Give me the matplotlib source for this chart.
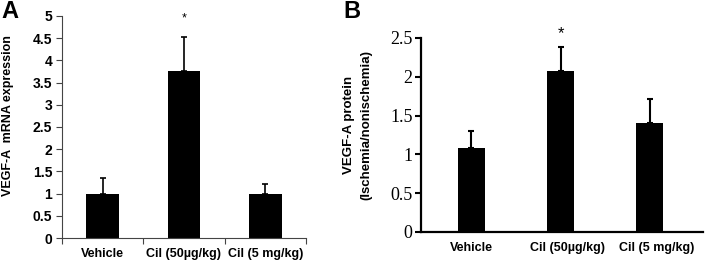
import matplotlib
matplotlib.use("Agg")
import matplotlib.pyplot as plt

groups = ["Vehicle", "Cil (50µg/kg)", "Cil (5 mg/kg)"]

# panel A: mRNA
mrna_mean = [1.0, 3.75, 1.0]
mrna_err = [0.35, 0.77, 0.21]
mrna_star = 4.95

# panel B: protein
prot_mean = [1.08, 2.07, 1.40]
prot_err = [0.22, 0.31, 0.31]
prot_star = 2.56

W, H = 706, 263
fig = plt.figure(figsize=(W / 100, H / 100), dpi=100)
SANS = ["Liberation Sans", "DejaVu Sans"]
SERIF = ["Liberation Serif", "DejaVu Serif"]


def box(l, t, r, b):
    return [l / W, 1 - b / H, (r - l) / W, (b - t) / H]


# ---- A ----
ax = fig.add_axes(box(62, 16, 306, 238))
x = range(len(groups))
ax.bar(x, mrna_mean, width=0.4, color="black")
ax.errorbar(x, mrna_mean, yerr=[[0] * 3, mrna_err], fmt="none",
            ecolor="black", elinewidth=1.2, capsize=2.5, capthick=1.2)
ax.text(1, mrna_star, "*", ha="center", va="center", fontsize=9, family=SANS)
ax.set_xlim(-0.5, 2.5)
ax.set_ylim(0, 5)
ax.set_yticks([0, 0.5, 1, 1.5, 2, 2.5, 3, 3.5, 4, 4.5, 5])
ax.set_yticklabels(["0", "0.5", "1", "1.5", "2", "2.5", "3", "3.5", "4", "4.5", "5"],
                   family=SANS, fontweight="bold", fontsize=10)
ax.set_xticks([-0.5, 0.5, 1.5, 2.5])
ax.set_xticklabels([])
ax.tick_params(axis="x", length=4, width=0.8, color="#444444")
ax.tick_params(axis="y", length=4, width=0.8, color="#444444", pad=3)
for i, g in enumerate(groups):
    ax.text(i, -0.36, g, ha="center", va="center", fontsize=9, fontweight="bold", family=SANS)
for s in ["top", "right"]:
    ax.spines[s].set_visible(False)
for s in ["left", "bottom"]:
    ax.spines[s].set_linewidth(0.8)
    ax.spines[s].set_color("#444444")
fig.text(8 / W, 1 - 116 / H, "VEGF-A  mRNA expression", rotation=90, ha="center", va="center",
         fontsize=9, fontweight="bold", family=SANS)
fig.text(1 / W, 1 - 12 / H, "A", ha="left", va="center", fontsize=17, fontweight="bold", family=SANS)

# ---- B ----
ax = fig.add_axes(box(421, 38, 703, 232))
ax.bar(x, prot_mean, width=0.3, color="black")
ax.errorbar(x, prot_mean, yerr=[[0] * 3, prot_err], fmt="none",
            ecolor="black", elinewidth=1.5, capsize=2.5, capthick=1.5)
ax.text(1, prot_star, "*", ha="center", va="center", fontsize=12, family=SANS)
ax.set_xlim(-0.567, 2.6)
ax.set_ylim(0, 2.5)
ax.set_yticks([0, 0.5, 1, 1.5, 2, 2.5])
ax.set_yticklabels(["0", "0.5", "1", "1.5", "2", "2.5"], family=SERIF, fontsize=13)
ax.set_xticks([])
ax.tick_params(axis="y", length=4, width=1.5, pad=2)
label_x = [0, 1.08, 2.08]
for xi, g in zip(label_x, groups):
    ax.text(xi, -0.2, g, ha="center", va="center", fontsize=9, fontweight="bold", family=SANS)
for s in ["top", "right"]:
    ax.spines[s].set_visible(False)
for s in ["left", "bottom"]:
    ax.spines[s].set_linewidth(1.6)
fig.text(349 / W, 1 - 125 / H, "VEGF-A protein", rotation=90, ha="center", va="center",
         fontsize=9.5, fontweight="bold", family=SANS)
fig.text(366 / W, 1 - 125 / H, "(Ischemia/nonischemia)", rotation=90, ha="center", va="center",
         fontsize=9.5, fontweight="bold", family=SANS)
fig.text(343 / W, 1 - 12 / H, "B", ha="left", va="center", fontsize=17, fontweight="bold", family=SANS)

fig.savefig("out.png", dpi=100)
